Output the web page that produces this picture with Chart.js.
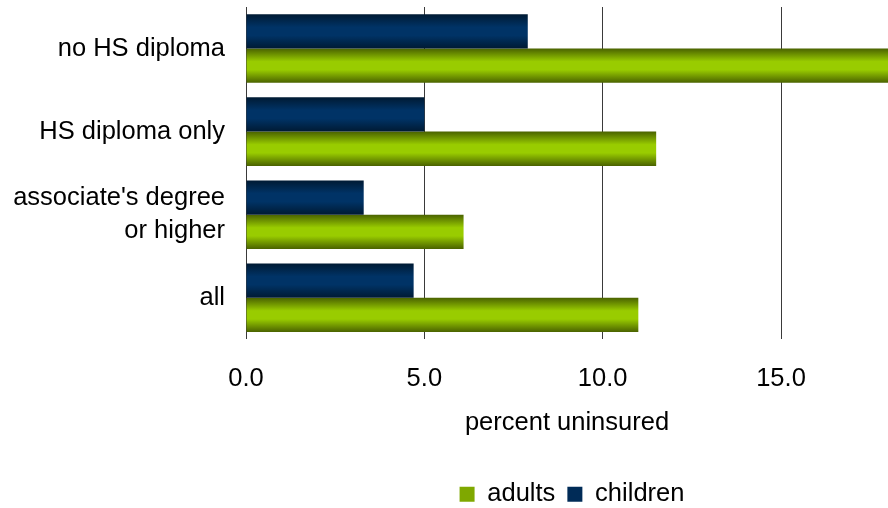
<!DOCTYPE html>
<html>
<head>
<meta charset="utf-8">
<script src="https://cdn.jsdelivr.net/npm/chart.js@4.4.1/dist/chart.umd.min.js"></script>
<style>
  html, body { margin: 0; padding: 0; background: #fff; }
  #wrap { width: 888px; height: 508px; }
</style>
</head>
<body>
<div id="wrap"><canvas id="c" width="888" height="508"></canvas></div>
<script>
// Education level of the family head
const categories = ['no HS diploma', 'HS diploma only', ["associate's degree", 'or higher'], 'all'];
// Percent uninsured
const children = [7.9, 5.0, 3.3, 4.7];
const adults = [18.0, 11.5, 6.1, 11.0];
const xTicks = [0, 5, 10, 15];

const CAT_PCT = 0.826;
const FONT = '"Liberation Sans", Arial, sans-serif';
const FONT_SIZE = 25.5;

// Vertical shading so each bar looks like a rounded tube
function tubeFill(dark, light) {
  return function (ctx) {
    const chart = ctx.chart;
    const y = chart.scales && chart.scales.y;
    if (ctx.type !== 'data' || !y || !chart.chartArea) return light;
    const center = y.getPixelForValue(ctx.dataIndex);
    const cat = (y.bottom - y.top) / categories.length;
    const thick = cat * CAT_PCT / 2;
    const top = ctx.datasetIndex === 0 ? center - thick : center;
    const g = chart.ctx.createLinearGradient(0, top, 0, top + thick);
    g.addColorStop(0, dark);
    g.addColorStop(0.38, light);
    g.addColorStop(0.62, light);
    g.addColorStop(1, dark);
    return g;
  };
}

// Center the legend under the plot area and drop it a little lower
const legendUnderPlot = {
  id: 'legendUnderPlot',
  afterLayout(chart) {
    const lg = chart.legend, a = chart.chartArea;
    if (!lg || !a) return;
    lg.left = a.left + 10;
    lg.right = a.right;
    lg.width = lg.right - lg.left;
    lg.top += 9;
    lg.bottom += 9;
  }
};

new Chart(document.getElementById('c'), {
  type: 'bar',
  data: {
    labels: categories,
    datasets: [
      {
        label: 'children',
        data: children,
        backgroundColor: tubeFill('#001a33', '#003366'),
        legendColor: '#002b57',
        borderWidth: 0,
        barPercentage: 1,
        categoryPercentage: CAT_PCT
      },
      {
        label: 'adults',
        data: adults,
        backgroundColor: tubeFill('#4a6200', '#99cc00'),
        legendColor: '#7fa800',
        borderWidth: 0,
        barPercentage: 1,
        categoryPercentage: CAT_PCT
      }
    ]
  },
  options: {
    indexAxis: 'y',
    responsive: false,
    animation: false,
    layout: { padding: { top: 7, right: 0, left: 0, bottom: 0 } },
    scales: {
      x: {
        min: 0,
        max: 18,
        afterBuildTicks(scale) {
          scale.ticks = xTicks.map(v => ({ value: v }));
        },
        grid: { color: '#3a3a3a', lineWidth: 1, drawTicks: true, tickLength: 24, tickColor: 'rgba(0,0,0,0)' },
        border: { display: false },
        ticks: {
          padding: 0,
          color: '#000',
          font: { family: FONT, size: FONT_SIZE },
          callback: v => Number(v).toFixed(1)
        },
        title: {
          display: true,
          text: 'percent uninsured',
          color: '#000',
          font: { family: FONT, size: FONT_SIZE },
          padding: { top: 14, bottom: 22 }
        }
      },
      y: {
        afterFit(scale) {
          scale.width = 246;
          scale.paddingTop = 0;
          scale.paddingBottom = 0;
        },
        grid: { display: false, drawTicks: true, tickLength: 21 },
        border: { display: false },
        ticks: {
          padding: 0,
          color: '#000',
          font: { family: FONT, size: FONT_SIZE, lineHeight: 1.3 }
        }
      }
    },
    plugins: {
      tooltip: { enabled: false },
      legend: {
        position: 'bottom',
        reverse: true,
        labels: {
          color: '#000',
          font: { family: FONT, size: FONT_SIZE },
          boxWidth: 15,
          boxHeight: 15,
          padding: 12,
          generateLabels(chart) {
            return chart.data.datasets.map((ds, i) => ({
              text: ds.label,
              fillStyle: ds.legendColor,
              strokeStyle: ds.legendColor,
              lineWidth: 0,
              hidden: false,
              datasetIndex: i,
              fontColor: '#000'
            }));
          }
        }
      }
    }
  },
  plugins: [legendUnderPlot]
});
</script>
</body>
</html>
